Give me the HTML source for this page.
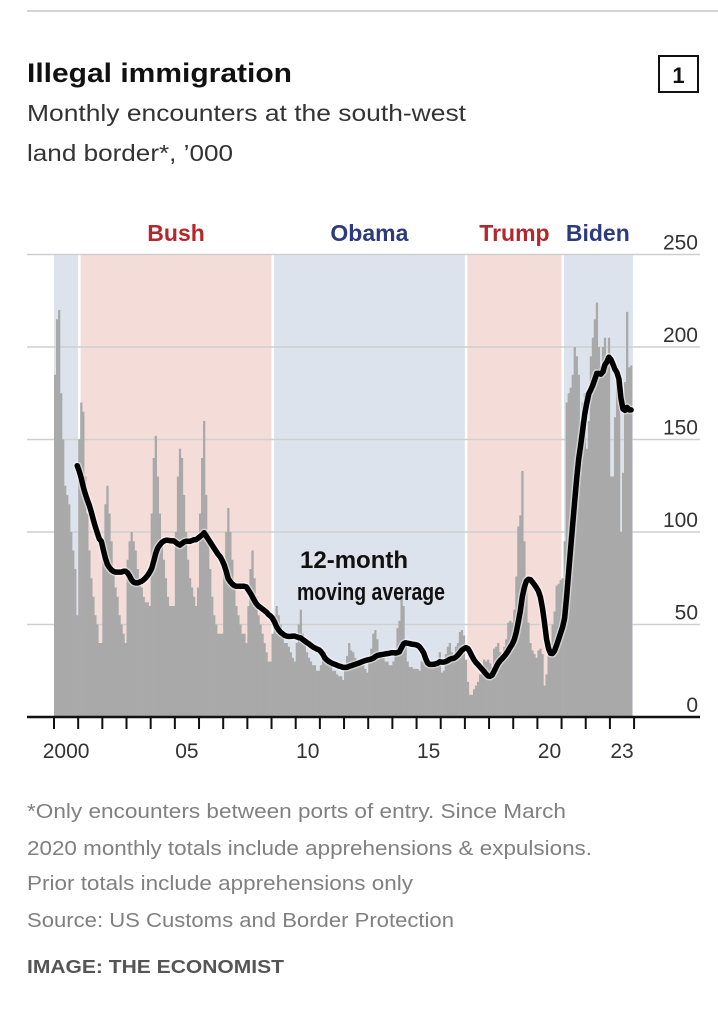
<!DOCTYPE html>
<html><head><meta charset="utf-8">
<style>
html,body{margin:0;padding:0;background:#fff;}
svg{display:block;}
text{font-family:"Liberation Sans",sans-serif;}
</style></head>
<body>
<svg id="chart" width="718" height="1020" viewBox="0 0 718 1020" xmlns="http://www.w3.org/2000/svg">
  <line x1="27" y1="11" x2="718" y2="11" stroke="#d4d4d4" stroke-width="2"/>
  <text x="27" y="82" font-size="27" font-weight="bold" fill="#111" textLength="265" lengthAdjust="spacingAndGlyphs">Illegal immigration</text>
  <text x="27" y="121" font-size="23" fill="#333" textLength="439" lengthAdjust="spacingAndGlyphs">Monthly encounters at the south-west</text>
  <text x="27" y="161" font-size="23" fill="#333" textLength="206" lengthAdjust="spacingAndGlyphs">land border*, ’000</text>
  <g>
    <rect x="659" y="56" width="39" height="36" fill="none" stroke="#111" stroke-width="2"/>
    <text x="678.5" y="83" font-size="22" font-weight="bold" fill="#111" text-anchor="middle">1</text>
  </g>
  <g id="bg"></g>
  <g id="grid"></g>
  <g id="bars"></g>
  <g id="line"></g>
  <g id="axis"></g>
  <text x="300" y="568" font-size="24" font-weight="bold" fill="#111" textLength="108" lengthAdjust="spacingAndGlyphs">12-month</text>
  <text x="297" y="600" font-size="24" font-weight="bold" fill="#111" textLength="148" lengthAdjust="spacingAndGlyphs">moving average</text>
  <text x="27" y="818" font-size="20" fill="#808080" textLength="539" lengthAdjust="spacingAndGlyphs">*Only encounters between ports of entry. Since March</text>
  <text x="27" y="855" font-size="20" fill="#808080" textLength="565" lengthAdjust="spacingAndGlyphs">2020 monthly totals include apprehensions &amp; expulsions.</text>
  <text x="27" y="890" font-size="20" fill="#808080" textLength="386" lengthAdjust="spacingAndGlyphs">Prior totals include apprehensions only</text>
  <text x="27" y="927" font-size="20" fill="#808080" textLength="427" lengthAdjust="spacingAndGlyphs">Source: US Customs and Border Protection</text>
  <text x="27" y="973" font-size="18" font-weight="bold" fill="#555" textLength="257" lengthAdjust="spacingAndGlyphs">IMAGE: THE ECONOMIST</text>
</svg>
<script>
// Monthly encounters ('000), Jan 2000 – Nov 2023
const y2000 = [185,215,220,175,150,125,120,115,100,90,80,55];
const y2001 = [150,170,165,130,110,90,75,65,55,50,40,40];
const y2002 = [95,115,125,110,95,80,70,65,55,50,45,40];
const y2003 = [85,95,100,95,90,80,75,70,65,62,62,60];
const y2004 = [110,140,152,130,110,95,85,75,65,60,60,60];
const y2005 = [100,130,145,140,120,100,85,75,70,65,60,70];
const y2006 = [110,140,160,120,100,80,65,55,50,45,45,45];
const y2007 = [80,100,113,100,85,70,60,55,50,45,45,40];
const y2008 = [60,80,90,75,65,55,50,45,40,35,30,30];
const y2009 = [45,55,60,55,50,45,40,40,38,35,32,30];
const y2010 = [40,50,58,45,40,35,32,30,28,28,25,25];
const y2011 = [28,32,35,32,30,28,25,25,23,22,22,20];
const y2012 = [28,33,40,36,35,32,30,30,28,28,26,24];
const y2013 = [30,37,45,47,42,35,33,32,30,30,28,28];
const y2014 = [30,35,48,52,68,60,40,30,27,27,26,26];
const y2015 = [26,25,30,32,32,30,30,30,28,30,30,35];
const y2016 = [24,25,34,38,40,35,32,38,40,46,47,44];
const y2017 = [31,19,12,12,15,17,19,23,26,31,30,31];
const y2018 = [29,27,37,38,40,35,32,38,42,51,52,51];
const y2019 = [58,76,103,109,133,95,72,51,40,36,34,32];
const y2020 = [36,37,34,17,23,33,40,50,57,71,72,74];
const y2021 = [75,95,170,175,178,185,200,195,185,160,170,175];
const y2022 = [145,160,195,205,215,224,200,190,200,205,190,205];
const y2023 = [130,130,162,183,171,100,132,181,219,189,190];
const monthly = [].concat(y2000,y2001,y2002,y2003,y2004,y2005,y2006,y2007,y2008,y2009,y2010,y2011,y2012,y2013,y2014,y2015,y2016,y2017,y2018,y2019,y2020,y2021,y2022,y2023);
const yTicks = [0,50,100,150,200,250];
const yearTickLabels = ["2000","05","10","15","20","23"];
const yearTickYears = [2000,2005,2010,2015,2020,2023];
const presidents = ["", "Bush", "Obama", "Trump", "Biden"];
const termStarts = [2000, 2001.05, 2009.05, 2017.05, 2021.05];
const termEnds = [2001.05, 2009.05, 2017.05, 2021.05, 2023.95];

const NS = "http://www.w3.org/2000/svg";
const X0 = 54, PX_YEAR = 24.17, Y0 = 717, PX_UNIT = 1.85;
const xs = t => X0 + (t - 2000) * PX_YEAR;
const ys = v => Y0 - v * PX_UNIT;
function mk(tag, attrs, parent){const e=document.createElementNS(NS,tag);for(const k in attrs)e.setAttribute(k,attrs[k]);parent.appendChild(e);return e;}

const bg = document.getElementById('bg');
const shade = ["#dde3ec","#f4ddd8","#dde3ec","#f4ddd8","#dde3ec"];
const labCol = ["#2d3a7c","#b3282d","#2d3a7c","#b3282d","#2d3a7c"];
for (let i=0;i<termStarts.length;i++){
  const r = mk('rect',{x:xs(termStarts[i]),y:ys(250),width:xs(termEnds[i])-xs(termStarts[i]),height:ys(0)-ys(250),fill:shade[i]},bg);
  
  
  if(i>0){
    const s = mk('line',{x1:xs(termStarts[i]),x2:xs(termStarts[i]),y1:ys(250),y2:ys(0),stroke:"#fff","stroke-width":2.5},bg);
    
    
  }
  if(presidents[i]){
    const t = mk('text',{x:(xs(termStarts[i])+xs(termEnds[i]))/2,y:241,"font-size":23,"font-weight":"bold",fill:labCol[i],"text-anchor":"middle"},bg);
    t.textContent = presidents[i];
    
    
  }
}

const grid = document.getElementById('grid');
yTicks.forEach(v=>{
  if(v>0){
    const g = mk('line',{x1:27,x2:700,y1:ys(v),y2:ys(v),stroke:"#cfcfcf","stroke-width":1.5},grid);
    
    
  }
  const t = mk('text',{x:698,y:ys(v)-5,"font-size":21,fill:"#333","text-anchor":"end"},grid);
  t.textContent = v;
  
  
});

const bars = document.getElementById('bars');
const bw = PX_YEAR/12;
monthly.forEach((v,i)=>{
  const t = 2000 + i/12;
  const b = mk('rect',{x:xs(t),y:ys(v),width:bw+0.25,height:ys(0)-ys(v),fill:"#a9a9a9"},bars);
  
  
});

let pts=[];
for(let i=11;i<monthly.length;i++){
  let s=0;for(let k=i-11;k<=i;k++)s+=monthly[k];
  pts.push([xs(2000+i/12+0.5/12), ys(s/12)]);
}
const lineG = document.getElementById('line');
const ptsStr = pts.map(q=>q[0].toFixed(1)+','+q[1].toFixed(1)).join(' ');
const p = mk('polyline',{points:ptsStr,fill:"none",stroke:"#fff","stroke-width":8.5,"stroke-linejoin":"round","stroke-linecap":"round",opacity:0.45},lineG);


const p2 = mk('polyline',{points:ptsStr,fill:"none",stroke:"#000","stroke-width":5.5,"stroke-linejoin":"round","stroke-linecap":"round"},lineG);



const ax = document.getElementById('axis');
const al = mk('line',{x1:27,x2:700,y1:Y0,y2:Y0,stroke:"#111","stroke-width":2.5},ax);


for(let y=2000;y<=2024;y++){
  const tk = mk('line',{x1:xs(y),x2:xs(y),y1:Y0,y2:Y0+12,stroke:"#111","stroke-width":2},ax);
  
  
}
yearTickYears.forEach((y,i)=>{
  const t = mk('text',{x:xs(y+0.5),y:758,"font-size":21,fill:"#333","text-anchor":"middle"},ax);
  t.textContent = yearTickLabels[i];
  
  
});
</script>
</body></html>
